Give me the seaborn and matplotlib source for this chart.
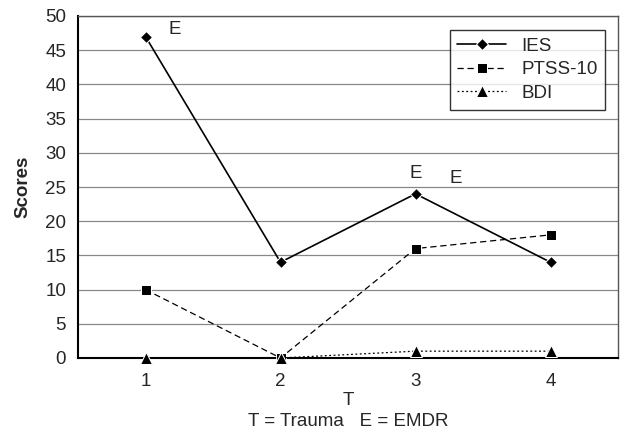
import seaborn as sns
import matplotlib.pyplot as plt
import pandas as pd

t = [1, 2, 3, 4]
ies = [47, 14, 24, 14]
ptss = [10, 0, 16, 18]
bdi = [0, 0, 1, 1]

sns.set_style("white")
plt.rcParams['font.family'] = ['Liberation Sans', 'DejaVu Sans']

fig = plt.figure(figsize=(6.26, 4.38), dpi=100)
ax = fig.add_axes([78 / 626, 80 / 438, 540 / 626, 342 / 438])

df = pd.DataFrame({'T': t, 'IES': ies, 'PTSS-10': ptss, 'BDI': bdi})

sns.lineplot(data=df, x='T', y='IES', ax=ax, color='black', lw=1.2,
             marker='D', markersize=6, label='IES', clip_on=False, zorder=5)
sns.lineplot(data=df, x='T', y='PTSS-10', ax=ax, color='black', lw=0.9,
             linestyle=(0, (5, 3)), marker='s', markersize=7, label='PTSS-10',
             clip_on=False, zorder=5)
sns.lineplot(data=df, x='T', y='BDI', ax=ax, color='black', lw=0.9,
             linestyle=(0, (1.5, 2)), marker='^', markersize=9, label='BDI',
             clip_on=False, zorder=5)

ax.set_xlim(0.5, 4.5)
ax.set_ylim(0, 50)
ax.set_yticks(range(0, 51, 5))
ax.set_xticks(t)
ax.set_xticks([1.5, 2.5, 3.5], minor=True)
ax.yaxis.grid(True, color='#888888', lw=0.9)
ax.set_axisbelow(True)
ax.tick_params(axis='x', which='major', length=0, labelsize=13.5, pad=11)
ax.tick_params(axis='x', which='minor', length=6, width=1, direction='out', color='black')
ax.tick_params(axis='y', length=5, width=1, direction='out', color='black', labelsize=13.5)
for s in ['left', 'bottom']:
    ax.spines[s].set_color('black')
    ax.spines[s].set_linewidth(1.5)
for s in ['top', 'right']:
    ax.spines[s].set_color('#555555')
    ax.spines[s].set_linewidth(1.0)

ax.set_xlabel('T', fontsize=13.5, labelpad=1)
ax.set_ylabel('Scores', fontsize=13.5, fontweight='bold', labelpad=10)

ax.text(1.22, 48, 'E', fontsize=13.5, ha='center', va='center')
ax.text(3.0, 27, 'E', fontsize=13.5, ha='center', va='center')
ax.text(3.3, 26.3, 'E', fontsize=13.5, ha='center', va='center')

leg = ax.legend(loc='upper right', bbox_to_anchor=(1 - 13 / 540, 1 - 14 / 342),
                borderaxespad=0, fontsize=13.5,
                frameon=True, fancybox=False, edgecolor='black',
                handlelength=2.6, borderpad=0.4, labelspacing=0.35)
leg.get_frame().set_linewidth(1.0)

ax.text(0.5, -64 / 342, 'T = Trauma   E = EMDR', transform=ax.transAxes,
        ha='center', va='center', fontsize=13.5)

fig.savefig('out.png', dpi=100)
